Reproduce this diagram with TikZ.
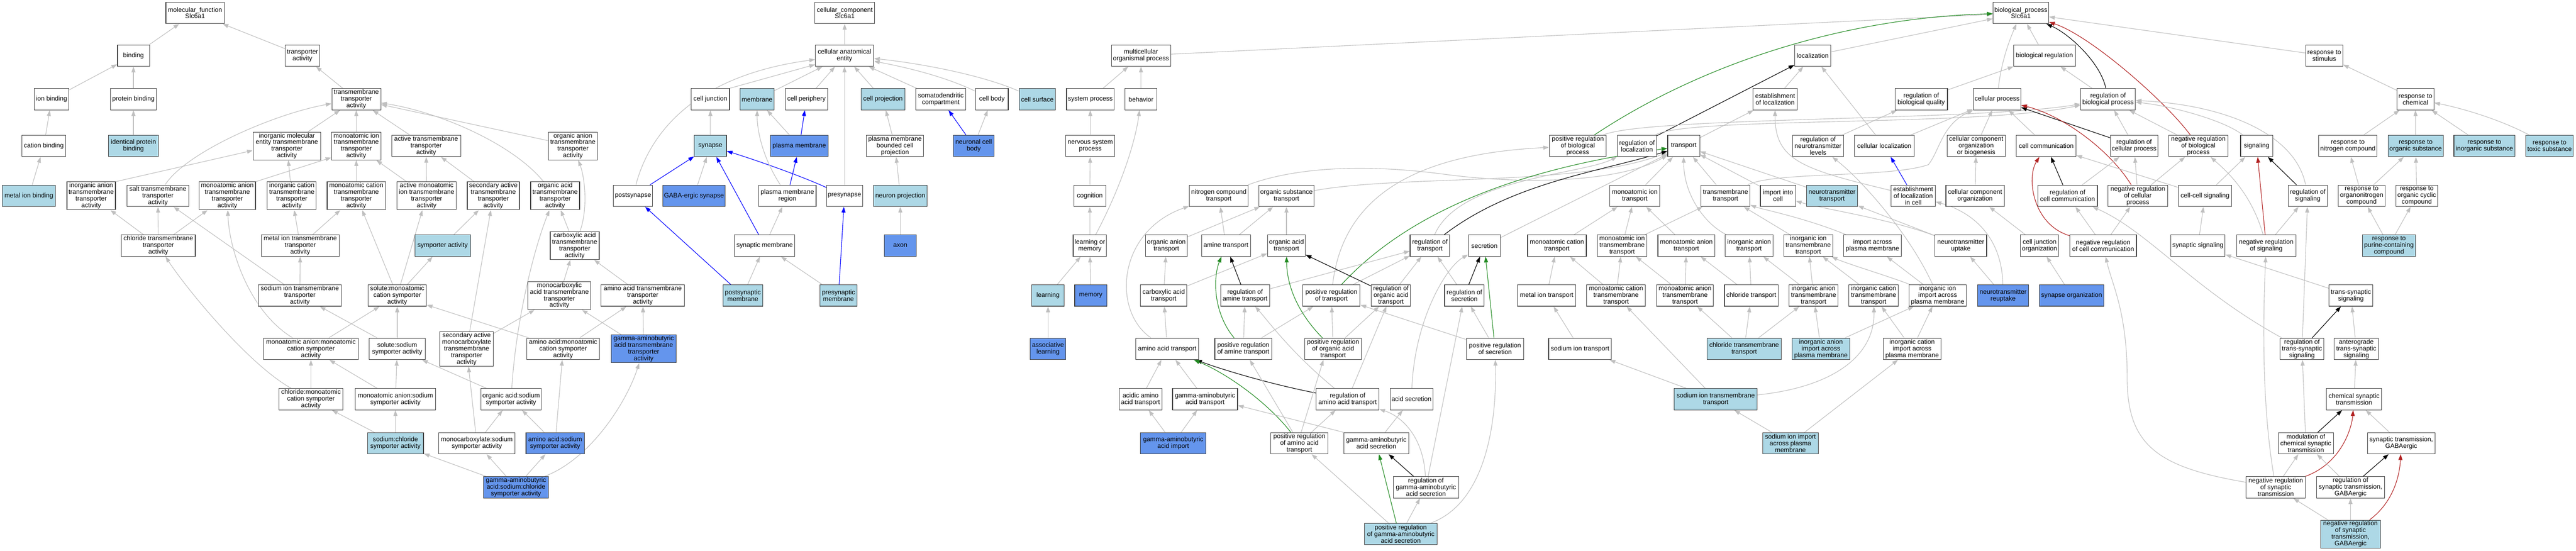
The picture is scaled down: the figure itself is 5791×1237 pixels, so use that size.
\documentclass[tikz,border=0pt]{standalone}
\usepackage{fontspec}
\setmainfont{Liberation Sans}
\usetikzlibrary{arrows.meta}
\definecolor{egray}{HTML}{C0C0C0}
\definecolor{lbcol}{HTML}{ADD8E6}
\definecolor{cbcol}{HTML}{6495ED}
\definecolor{fgreen}{HTML}{228B22}
\definecolor{fred}{HTML}{B22222}
\definecolor{bord}{HTML}{404040}
\newcommand\gofont{\fontsize{14.5}{15}\selectfont}
\pgfdeclarelayer{bg}
\pgfsetlayers{bg,main}
\newcommand\GN[6]{\node[gbox,#5,minimum width=#4pt] (#1) at (#2,#3) {#6};}
\tikzset{
 gbox/.style={draw=bord,line width=1.3pt,rectangle,fill=white,inner xsep=3pt,inner ysep=2pt,minimum height=48pt,align=center,font=\gofont},
 wbx/.style={},
 lbx/.style={fill=lbcol},
 cbx/.style={fill=cbcol},
 egr/.style={draw=egray,line width=1.3pt,-{Triangle[length=13pt,width=9pt]}},
 eblu/.style={egr,draw=blue},
 eblk/.style={egr,draw=black},
 egrn/.style={egr,draw=fgreen},
 ered/.style={egr,draw=fred}
}
\begin{document}
\begin{tikzpicture}[x=1pt,y=-1pt]
\useasboundingbox (0,0) rectangle (5791,1237);
% ---------- MF ----------
\GN{mf}{438.5}{29}{131}{wbx}{molecular\_function\\Slc6a1}
\GN{binding}{300}{125}{72}{wbx}{binding}
\GN{transpact}{680}{125}{78}{wbx}{transporter\\activity}
\GN{ionbind}{116}{223}{78}{wbx}{ion binding}
\GN{protbind}{300}{223}{104}{wbx}{protein binding}
\GN{tta}{801}{223}{110}{wbx}{transmembrane\\transporter\\activity}
\GN{cationbind}{98.5}{328}{99}{wbx}{cation binding}
\GN{identprot}{300}{328}{112}{lbx}{identical protein\\binding}
\GN{inorgmol}{645}{328}{152}{wbx}{inorganic molecular\\entity transmembrane\\transporter\\activity}
\GN{monoiontta}{801}{328}{111}{wbx}{monoatomic ion\\transmembrane\\transporter\\activity}
\GN{activetta}{958}{328}{155}{wbx}{active transmembrane\\transporter\\activity}
\GN{orgaaniontta}{1288}{328}{110}{wbx}{organic anion\\transmembrane\\transporter\\activity}
\GN{metalbind}{65}{440}{120}{lbx}{metal ion binding}
\GN{inorganiontta}{205}{440}{109}{wbx}{inorganic anion\\transmembrane\\transporter\\activity}
\GN{salttta}{355}{440}{138}{wbx}{salt transmembrane\\transporter\\activity}
\GN{monoaniontta}{511}{440}{127}{wbx}{monoatomic anion\\transmembrane\\transporter\\activity}
\GN{inorgcationtta}{656}{440}{110}{wbx}{inorganic cation\\transmembrane\\transporter\\activity}
\GN{monocationtta}{801}{440}{131}{wbx}{monoatomic cation\\transmembrane\\transporter\\activity}
\GN{activemonoion}{959}{440}{134}{wbx}{active monoatomic\\ion transmembrane\\transporter\\activity}
\GN{secactive}{1109}{440}{117}{wbx}{secondary active\\transmembrane\\transporter\\activity}
\GN{orgacidtta}{1248}{440}{110}{wbx}{organic acid\\transmembrane\\transporter\\activity}
\GN{chloridetta}{356}{552}{166}{wbx}{chloride transmembrane\\transporter\\activity}
\GN{metaliontta}{675}{552}{175}{wbx}{metal ion transmembrane\\transporter\\activity}
\GN{symporter}{995}{552}{125}{lbx}{symporter activity}
\GN{carboxtta}{1292}{552}{110}{wbx}{carboxylic acid\\transmembrane\\transporter\\activity}
\GN{sodiumtta}{674}{664}{186}{wbx}{sodium ion transmembrane\\transporter\\activity}
\GN{solutemono}{893}{664}{131}{wbx}{solute:monoatomic\\cation symporter\\activity}
\GN{monocarbtta}{1257.5}{664}{141}{wbx}{monocarboxylic\\acid transmembrane\\transporter\\activity}
\GN{aminotta}{1445}{664}{187}{wbx}{amino acid transmembrane\\transporter\\activity}
\GN{anionmonosym}{699}{784}{214}{wbx}{monoatomic anion:monoatomic\\cation symporter\\activity}
\GN{solutesod}{893}{784}{126}{wbx}{solute:sodium\\symporter activity}
\GN{secmonocarb}{1049}{784}{120}{wbx}{secondary active\\monocarboxylate\\transmembrane\\transporter\\activity}
\GN{aminomonosym}{1266}{784}{163}{wbx}{amino acid:monoatomic\\cation symporter\\activity}
\GN{gabatta}{1447}{784}{146}{cbx}{gamma-aminobutyric\\acid transmembrane\\transporter\\activity}
\GN{chlormonosym}{699}{897}{144}{wbx}{chloride:monoatomic\\cation symporter\\activity}
\GN{anionsodsym}{889}{897}{180}{wbx}{monoatomic anion:sodium\\symporter activity}
\GN{orgacidsod}{1149}{897}{136}{wbx}{organic acid:sodium\\symporter activity}
\GN{sodchlor}{889}{996}{126}{lbx}{sodium:chloride\\symporter activity}
\GN{monocarbsod}{1072}{996}{171}{wbx}{monocarboxylate:sodium\\symporter activity}
\GN{aminosod}{1248}{996}{131}{cbx}{amino acid:sodium\\symporter activity}
\GN{gabasodchl}{1160}{1095}{146}{cbx}{gamma-aminobutyric\\acid:sodium:chloride\\symporter activity}
% ---------- CC ----------
\GN{cc}{1899}{29}{134}{wbx}{cellular\_component\\Slc6a1}
\GN{cae}{1898.5}{125}{131}{wbx}{cellular anatomical\\entity}
\GN{celljunc}{1597}{223}{86}{wbx}{cell junction}
\GN{membrane}{1702}{223}{77}{lbx}{membrane}
\GN{cellperiph}{1813}{223}{95}{wbx}{cell periphery}
\GN{cellproj}{1985}{223}{98}{lbx}{cell projection}
\GN{somato}{2115}{223}{112}{wbx}{somatodendritic\\compartment}
\GN{cellbody}{2230}{223}{73}{wbx}{cell body}
\GN{cellsurf}{2332}{223}{81}{lbx}{cell surface}
\GN{synapse}{1597}{328}{72}{lbx}{synapse}
\GN{pm}{1797}{328}{129}{cbx}{plasma membrane}
\GN{pmbcp}{2012}{328}{129}{wbx}{plasma membrane\\bounded cell\\projection}
\GN{neuronbody}{2189}{328}{91}{cbx}{neuronal cell\\body}
\GN{postsyn}{1423}{440}{88}{wbx}{postsynapse}
\GN{gabasyn}{1560}{440}{139}{cbx}{GABA-ergic synapse}
\GN{pmregion}{1770}{440}{129}{wbx}{plasma membrane\\region}
\GN{presyn}{1898.5}{440}{81}{wbx}{presynapse}
\GN{neuronproj}{2024}{440}{120}{lbx}{neuron projection}
\GN{synmem}{1719}{552}{136}{wbx}{synaptic membrane}
\GN{axon}{2024}{552}{72}{cbx}{axon}
\GN{postsynmem}{1670}{664}{89}{lbx}{postsynaptic\\membrane}
\GN{presynmem}{1885}{664}{83}{lbx}{presynaptic\\membrane}
% ---------- BP ----------
\GN{bp}{4543}{29}{125}{wbx}{biological\_process\\Slc6a1}
\GN{multicell}{2565}{125}{133}{wbx}{multicellular\\organismal process}
\GN{localization}{4075}{125}{81}{wbx}{localization}
\GN{bioreg}{4596}{125}{139}{wbx}{biological regulation}
\GN{respstim}{5225}{125}{83}{wbx}{response to\\stimulus}
\GN{sysproc}{2451}{223}{107}{wbx}{system process}
\GN{behavior}{2565}{223}{72}{wbx}{behavior}
\GN{estloc}{3990.5}{223}{99}{wbx}{establishment\\of localization}
\GN{regbioqual}{4319}{223}{118}{wbx}{regulation of\\biological quality}
\GN{cellproc}{4489.5}{223}{107}{wbx}{cellular process}
\GN{regbp}{4739}{223}{123}{wbx}{regulation of\\biological process}
\GN{respchem}{5430}{223}{83}{wbx}{response to\\chemical}
\GN{nervsys}{2451}{328}{110}{wbx}{nervous system\\process}
\GN{posregbp}{3547}{328}{128}{wbx}{positive regulation\\of biological\\process}
\GN{regloc}{3680}{328}{88}{wbx}{regulation of\\localization}
\GN{transport}{3785}{328}{72}{wbx}{transport}
\GN{regnt}{4087}{328}{115}{wbx}{regulation of\\neurotransmitter\\levels}
\GN{cellloc}{4236}{328}{134}{wbx}{cellular localization}
\GN{ccob}{4442.5}{328}{131}{wbx}{cellular component\\organization\\or biogenesis}
\GN{cellcomm}{4600}{328}{134}{wbx}{cell communication}
\GN{regcellproc}{4797.5}{328}{107}{wbx}{regulation of\\cellular process}
\GN{negregbp}{4942}{328}{134}{wbx}{negative regulation\\of biological\\process}
\GN{signaling}{5073}{328}{72}{wbx}{signaling}
\GN{respnitro}{5278}{328}{131}{wbx}{response to\\nitrogen compound}
\GN{resporg}{5430.5}{328}{124}{lbx}{response to\\organic substance}
\GN{respinorg}{5585}{328}{137}{lbx}{response to\\inorganic substance}
\GN{resptoxic}{5731.5}{328}{107}{lbx}{response to\\toxic substance}
\GN{cognition}{2450}{440}{72}{wbx}{cognition}
\GN{nitrotrans}{2740}{440}{132}{wbx}{nitrogen compound\\transport}
\GN{orgsubtrans}{2892}{440}{123}{wbx}{organic substance\\transport}
\GN{monoiontrans}{3675}{440}{112}{wbx}{monoatomic ion\\transport}
\GN{tmtrans}{3879}{440}{110}{wbx}{transmembrane\\transport}
\GN{importcell}{3997}{440}{79}{wbx}{import into\\cell}
\GN{nttrans}{4118.5}{440}{115}{lbx}{neurotransmitter\\transport}
\GN{elc}{4301}{440}{99}{wbx}{establishment\\of localization\\in cell}
\GN{cco}{4440}{440}{131}{wbx}{cellular component\\organization}
\GN{regcellcomm}{4648}{440}{134}{wbx}{regulation of\\cell communication}
\GN{negregcellproc}{4806}{440}{134}{wbx}{negative regulation\\of cellular\\process}
\GN{cellcell}{4957}{440}{120}{wbx}{cell-cell signaling}
\GN{regsig}{5188}{440}{88}{wbx}{regulation of\\signaling}
\GN{resporgnitro}{5309}{440}{105}{wbx}{response to\\organonitrogen\\compound}
\GN{resporgcyc}{5433}{440}{94}{wbx}{response to\\organic cyclic\\compound}
\GN{learnmem}{2450}{552}{75}{wbx}{learning or\\memory}
\GN{orgaaniontrans}{2622}{552}{94}{wbx}{organic anion\\transport}
\GN{aminetrans}{2756}{552}{110}{wbx}{amine transport}
\GN{orgacidtrans}{2892}{552}{85}{wbx}{organic acid\\transport}
\GN{regtrans}{3214.5}{552}{89}{wbx}{regulation of\\transport}
\GN{secretion}{3337}{552}{72}{wbx}{secretion}
\GN{monocattrans}{3500}{552}{132}{wbx}{monoatomic cation\\transport}
\GN{monoiontm}{3646.5}{552}{112}{wbx}{monoatomic ion\\transmembrane\\transport}
\GN{monoaniontrans}{3791}{552}{128}{wbx}{monoatomic anion\\transport}
\GN{inorganiontrans}{3932}{552}{108}{wbx}{inorganic anion\\transport}
\GN{inorgiontm}{4065}{552}{110}{wbx}{inorganic ion\\transmembrane\\transport}
\GN{importpm}{4209.5}{552}{129}{wbx}{import across\\plasma membrane}
\GN{ntuptake}{4408}{552}{116}{wbx}{neurotransmitter\\uptake}
\GN{cjorg}{4585}{552}{86}{wbx}{cell junction\\organization}
\GN{negregcellcomm}{4728}{552}{150}{wbx}{negative regulation\\of cell communication}
\GN{synsig}{4941}{552}{122}{wbx}{synaptic signaling}
\GN{negregsig}{5094.5}{552}{133}{wbx}{negative regulation\\of signaling}
\GN{resppurine}{5370.5}{552}{120}{lbx}{response to\\purine-containing\\compound}
\GN{learning}{2356}{664}{73}{lbx}{learning}
\GN{memory}{2452}{664}{72}{cbx}{memory}
\GN{carbtrans}{2616}{664}{104}{wbx}{carboxylic acid\\transport}
\GN{regamine}{2799}{664}{110}{wbx}{regulation of\\amine transport}
\GN{posregtrans}{2993}{664}{129}{wbx}{positive regulation\\of transport}
\GN{regorgacid}{3127}{664}{88}{wbx}{regulation of\\organic acid\\transport}
\GN{regsecr}{3292}{664}{89}{wbx}{regulation of\\secretion}
\GN{metaltrans}{3477}{664}{131}{wbx}{metal ion transport}
\GN{monocattm}{3633}{664}{132}{wbx}{monoatomic cation\\transmembrane\\transport}
\GN{monoaniontm}{3788}{664}{128}{wbx}{monoatomic anion\\transmembrane\\transport}
\GN{chlortrans}{3937}{664}{121}{wbx}{chloride transport}
\GN{inorganiontm}{4077}{664}{110}{wbx}{inorganic anion\\transmembrane\\transport}
\GN{inorgcattm}{4212}{664}{111}{wbx}{inorganic cation\\transmembrane\\transport}
\GN{inorgionimport}{4356}{664}{128}{wbx}{inorganic ion\\import across\\plasma membrane}
\GN{ntreuptake}{4503}{664}{115}{cbx}{neurotransmitter\\reuptake}
\GN{synorg}{4657}{664}{145}{cbx}{synapse organization}
\GN{transsyn}{5285}{664}{98}{wbx}{trans-synaptic\\signaling}
\GN{assoclearn}{2356}{784}{80}{cbx}{associative\\learning}
\GN{aminoacidtrans}{2624}{784}{141}{wbx}{amino acid transport}
\GN{posregamine}{2795}{784}{128}{wbx}{positive regulation\\of amine transport}
\GN{posregorgacid}{2997}{784}{128}{wbx}{positive regulation\\of organic acid\\transport}
\GN{posregsecr}{3361}{784}{128}{wbx}{positive regulation\\of secretion}
\GN{sodtrans}{3552}{784}{141}{wbx}{sodium ion transport}
\GN{chlortm}{3921}{784}{166}{lbx}{chloride transmembrane\\transport}
\GN{inorganionimp}{4093.5}{784}{129}{lbx}{inorganic anion\\import across\\plasma membrane}
\GN{inorgcatimp}{4298.5}{784}{129}{wbx}{inorganic cation\\import across\\plasma membrane}
\GN{regtranssyn}{5175}{784}{98}{wbx}{regulation of\\trans-synaptic\\signaling}
\GN{antero}{5297}{784}{99}{wbx}{anterograde\\trans-synaptic\\signaling}
\GN{acidicamino}{2564}{897}{96}{wbx}{acidic amino\\acid transport}
\GN{gabatrans}{2709}{897}{146}{wbx}{gamma-aminobutyric\\acid transport}
\GN{regaminoacid}{3029.5}{897}{141}{wbx}{regulation of\\amino acid transport}
\GN{acidsecr}{3173}{897}{96}{wbx}{acid secretion}
\GN{sodtm}{3857}{897}{186}{lbx}{sodium ion transmembrane\\transport}
\GN{chemsyn}{5292}{897}{124}{wbx}{chemical synaptic\\transmission}
\GN{gabaimport}{2637.5}{996}{147}{cbx}{gamma-aminobutyric\\acid import}
\GN{posregaminoacid}{2921}{996}{128}{wbx}{positive regulation\\of amino acid\\transport}
\GN{gabasecr}{3094}{996}{146}{wbx}{gamma-aminobutyric\\acid secretion}
\GN{sodimport}{4025}{996}{125}{lbx}{sodium ion import\\across plasma\\membrane}
\GN{modchem}{5183.6}{996}{124}{wbx}{modulation of\\chemical synaptic\\transmission}
\GN{syntransgaba}{5398}{996}{152}{wbx}{synaptic transmission,\\GABAergic}
\GN{regGABAsecr}{3205.5}{1095}{147}{wbx}{regulation of\\gamma-aminobutyric\\acid secretion}
\GN{negregsyn}{5116}{1095}{133}{wbx}{negative regulation\\of synaptic\\transmission}
\GN{regsyngaba}{5284}{1095}{153}{wbx}{regulation of\\synaptic transmission,\\GABAergic}
\GN{posreggabasecr}{3149}{1200}{163}{lbx}{positive regulation\\of gamma-aminobutyric\\acid secretion}
\GN{negregsyngaba}{5284}{1200}{134}{lbx}{negative regulation\\of synaptic\\transmission,\\GABAergic}

\begin{pgfonlayer}{bg}
\fill[white] (0,0) rectangle (5791,1237);
% ---- MF edges ----
\draw[egr] (binding) -- (mf);
\draw[egr] (transpact) -- (mf);
\draw[egr] (ionbind) -- (binding);
\draw[egr] (protbind) -- (binding);
\draw[egr] (cationbind) -- (ionbind);
\draw[egr] (identprot) -- (protbind);
\draw[egr] (metalbind) -- (cationbind);
\draw[egr] (tta) -- (transpact);
\draw[egr] (inorgmol) -- (tta);
\draw[egr] (monoiontta) -- (tta);
\draw[egr] (activetta) -- (tta);
\draw[egr] (orgaaniontta) -- (tta);
\draw[egr] (orgacidtta) .. controls (1150,320) and (980,250) .. (tta);
\draw[egr] (salttta) .. controls (420,340) and (620,255) .. (tta);
\draw[egr] (inorganiontta.north east) -- ([yshift=-10pt]inorgmol.west);
\draw[egr] (monoaniontta.north east) -- ([yshift=-26pt]monoiontta.west);
\draw[egr] (inorgcationtta) -- (inorgmol);
\draw[egr] (monocationtta) -- (monoiontta);
\draw[egr] (activemonoion) -- (monoiontta);
\draw[egr] (activemonoion) -- (activetta);
\draw[egr] (secactive) -- (activetta);
\draw[egr] (chloridetta) -- (inorganiontta);
\draw[egr] (chloridetta) -- (salttta);
\draw[egr] (chloridetta) -- (monoaniontta);
\draw[egr] (metaliontta) -- (inorgcationtta);
\draw[egr] (metaliontta) -- (monocationtta);
\draw[egr] (symporter) -- (secactive);
\draw[egr] (carboxtta) .. controls (1322,470) and (1315,400) .. (orgaaniontta);
\draw[egr] (carboxtta) -- (orgacidtta);
\draw[egr] (sodiumtta) -- (salttta);
\draw[egr] (sodiumtta) -- (metaliontta);
\draw[egr] (solutemono) -- (monocationtta);
\draw[egr] (solutemono) -- (activemonoion);
\draw[egr] (solutemono) -- (symporter);
\draw[egr] (anionmonosym) -- (solutemono);
\draw[egr] (anionmonosym) .. controls (560,700) and (515,560) .. (monoaniontta);
\draw[egr] (solutesod) -- (sodiumtta);
\draw[egr] (solutesod) -- (solutemono);
\draw[egr] (chlormonosym) -- (anionmonosym);
\draw[egr] (chlormonosym) .. controls (560,820) and (420,650) .. (chloridetta);
\draw[egr] (anionsodsym) -- (anionmonosym);
\draw[egr] (anionsodsym) -- (solutesod);
\draw[egr] (sodchlor) -- (chlormonosym);
\draw[egr] (sodchlor) -- (anionsodsym);
\draw[egr] (orgacidsod) -- (solutesod);
\draw[egr] (orgacidsod) .. controls (1160,720) and (1200,560) .. (orgacidtta);
\draw[egr] (aminomonosym) -- (solutemono);
\draw[egr] (aminomonosym) -- (aminotta);
\draw[egr] (secmonocarb) -- (secactive);
\draw[egr] (secmonocarb) -- (monocarbtta);
\draw[egr] (monocarbtta) -- (carboxtta);
\draw[egr] (aminotta) -- (carboxtta);
\draw[egr] (gabatta) -- (monocarbtta);
\draw[egr] (gabatta) -- (aminotta);
\draw[egr] (monocarbsod) -- (secmonocarb);
\draw[egr] (monocarbsod) -- (orgacidsod);
\draw[egr] (aminosod) -- (orgacidsod);
\draw[egr] (aminosod) -- (aminomonosym);
\draw[egr] (gabasodchl) -- (sodchlor);
\draw[egr] (gabasodchl) -- (monocarbsod);
\draw[egr] (gabasodchl) -- (aminosod);
\draw[egr] (gabasodchl) .. controls (1330,1030) and (1410,900) .. (gabatta);
% ---- CC edges ----
\draw[egr] (cae) -- (cc);
\draw[egr] (celljunc.north east) -- ([yshift=-20pt]cae.west);
\draw[egr] (membrane) -- (cae);
\draw[egr] (cellperiph) -- (cae);
\draw[egr] (postsyn) .. controls (1460,300) and (1560,170) .. (cae);
\draw[egr] (presyn) -- (cae);
\draw[egr] (cellproj) -- (cae);
\draw[egr] (somato) -- (cae);
\draw[egr] (cellbody) .. controls (2120,170) and (2030,150) .. (cae);
\draw[egr] (cellsurf) .. controls (2200,165) and (2050,140) .. (cae);
\draw[egr] (synapse) -- (celljunc);
\draw[egr] (pm) -- (membrane);
\draw[eblu] (pm) -- (cellperiph);
\draw[eblu] (postsyn) -- (synapse);
\draw[egr] (gabasyn) -- (synapse);
\draw[eblu] (presyn) .. controls (1800,395) and (1700,360) .. (synapse);
\draw[egr] (pmregion) .. controls (1712,350) and (1702,290) .. (membrane);
\draw[eblu] (pmregion) -- (pm);
\draw[eblu] (synmem) -- (synapse);
\draw[egr] (synmem) -- (pmregion);
\draw[eblu] (postsynmem) -- (postsyn);
\draw[egr] (postsynmem) -- (synmem);
\draw[eblu] (presynmem) -- (presyn);
\draw[egr] (presynmem) -- (synmem);
\draw[egr] (pmbcp) -- (cellproj);
\draw[eblu] (neuronbody) -- (somato);
\draw[egr] (neuronbody) -- (cellbody);
\draw[egr] (neuronproj) -- (pmbcp);
\draw[egr] (axon) -- (neuronproj);
% ---- BP top ----
\draw[egr] (multicell) -- (bp);
\draw[egr] (localization) -- (bp);
\draw[egr] (bioreg) -- (bp);
\draw[egr] (cellproc) .. controls (4500,130) and (4522,80) .. (bp);
\draw[eblk] (regbp) .. controls (4722,140) and (4650,75) .. (bp);
\draw[ered] (negregbp) .. controls (4870,230) and (4700,80) .. (bp);
\draw[egrn] (posregbp) .. controls (3830,140) and (4150,40) .. (bp);
\draw[egr] (respstim) -- (bp);
\draw[egr] (sysproc) -- (multicell);
\draw[egr] (behavior) -- (multicell);
\draw[egr] (nervsys) -- (sysproc);
\draw[egr] (cognition) -- (nervsys);
\draw[egr] (learnmem) -- (cognition);
\draw[egr] (learnmem) .. controls (2520,420) and (2552,320) .. (behavior);
\draw[egr] (learning) -- (learnmem);
\draw[egr] (memory) -- (learnmem);
\draw[egr] (assoclearn) -- (learning);
\draw[egr] (estloc) -- (localization);
\draw[egr] (cellloc) -- (localization);
\draw[egr] (transport) -- (estloc);
\draw[eblk] (regloc) -- (localization);
\draw[egr] (regloc) .. controls (3790,262) and (4450,285) .. (regbp);
\draw[egr] (posregbp) .. controls (3700,262) and (4450,272) .. (regbp);
\draw[egr] (regbioqual) -- (bioreg);
\draw[egr] (regbp) -- (bioreg);
\draw[egr] (cellloc) -- (cellproc);
\draw[egr] (ccob) -- (cellproc);
\draw[egr] (cellcomm) -- (cellproc);
\draw[eblk] (regcellproc) -- (cellproc);
\draw[egr] (regcellproc) -- (regbp);
\draw[ered] (negregcellproc) .. controls (4745,340) and (4640,260) .. (cellproc);
\draw[egr] (negregcellproc) -- (negregbp);
\draw[egr] (negregcellproc) -- (regcellproc);
\draw[eblu] (elc) -- (cellloc);
\draw[egr] (elc) .. controls (4050,380) and (3990,360) .. (estloc);
\draw[egr] (tmtrans) .. controls (3990,385) and (4250,400) .. (4335,370) .. controls (4360,340) and (4365,280) .. (cellproc);
\draw[egr] (importcell) -- (transport);
\draw[egr] (nttrans) -- (transport);
\draw[egr] (tmtrans) -- (transport);
\draw[egr] (regnt) -- (regbioqual);
\draw[egr] (cco) -- (ccob);
\draw[egr] (cjorg) -- (cco);
\draw[eblk] (regcellcomm) -- (cellcomm);
\draw[egr] (regcellcomm) -- (regcellproc);
\draw[ered] (negregcellcomm) .. controls (4570,505) and (4555,400) .. (cellcomm);
\draw[egr] (negregcellcomm) -- (regcellcomm);
\draw[egr] (negregcellcomm) -- (negregcellproc);
\draw[egr] (cellcell) -- (cellcomm);
\draw[egr] (cellcell) -- (signaling);
\draw[egr] (signaling) .. controls (5000,270) and (4880,238) .. (regbp);
\draw[eblk] (regsig) -- (signaling);
\draw[egr] (regsig) .. controls (5160,300) and (5000,235) .. (regbp);
\draw[ered] (negregsig) -- (signaling);
\draw[egr] (negregsig) -- (regsig);
\draw[egr] (negregsig) .. controls (5060,430) and (5000,380) .. (negregbp);
\draw[egr] (synsig) -- (cellcell);
\draw[egr] (respchem) -- (respstim);
\draw[egr] (respnitro) -- (respchem);
\draw[egr] (resporg) -- (respchem);
\draw[egr] (respinorg) -- (respchem);
\draw[egr] (resptoxic) .. controls (5620,268) and (5530,242) .. (respchem);
\draw[egr] (resporgnitro) -- (respnitro);
\draw[egr] (resporgnitro) -- (resporg);
\draw[egr] (resporgcyc) -- (resporg);
\draw[egr] (resppurine) -- (resporgnitro);
\draw[egr] (resppurine) -- (resporgcyc);
\draw[egr] (negregbp) -- (regbp);
% ---- transport ----
\draw[egr] (orgsubtrans) .. controls (3150,392) and (3550,420) .. (transport);
\draw[egr] (nitrotrans) .. controls (2900,380) and (3050,365) .. (3250,392) .. controls (3450,418) and (3650,405) .. (transport);
\draw[egr] (posregtrans) .. controls (3020,430) and (3200,345) .. (posregbp);
\draw[egr] (regtrans) .. controls (3280,400) and (3560,392) .. (regloc);
\draw[eblk] (regtrans) .. controls (3400,410) and (3600,385) .. (transport);
\draw[egrn] (posregtrans) .. controls (3200,440) and (3500,368) .. (transport);
\draw[egr] (secretion) -- (transport);
\draw[egr] (monoiontrans) -- (transport);
\draw[egr] (inorganiontrans) .. controls (3835,505) and (3785,440) .. (transport);
\draw[egr] (monoiontm) -- (tmtrans);
\draw[egr] (monoiontm) -- (monoiontrans);
\draw[egr] (monocattrans) -- (monoiontrans);
\draw[egr] (monoaniontrans) -- (monoiontrans);
\draw[egr] (inorgiontm) -- (tmtrans);
\draw[egr] (importpm) .. controls (4060,490) and (3960,470) .. (tmtrans);
\draw[egr] (ntuptake) -- (nttrans);
\draw[egr] (ntuptake) .. controls (4250,492) and (4100,470) .. (importcell);
\draw[egr] (ntreuptake) -- (ntuptake);
\draw[egr] (ntreuptake) .. controls (4500,520) and (4420,472) .. (elc);
\draw[egr] (inorgionimport) .. controls (4290,520) and (4180,400) .. (regnt);
\draw[egr] (chlortrans) -- (monoaniontrans);
\draw[egr] (chlortrans) -- (inorganiontrans);
\draw[egr] (inorganiontm) -- (inorganiontrans);
\draw[egr] (inorganiontm) -- (inorgiontm);
\draw[egr] (inorgcattm) -- (inorgiontm);
\draw[egr] (inorgionimport) .. controls (4250,622) and (4150,592) .. (inorgiontm);
\draw[egr] (inorgionimport) -- (importpm);
\draw[egr] (synorg) -- (cjorg);
\draw[egr] (metaltrans) -- (monocattrans);
\draw[egr] (monocattm) -- (monocattrans);
\draw[egr] (monocattm) -- (monoiontm);
\draw[egr] (monoaniontm) -- (monoiontm);
\draw[egr] (monoaniontm) -- (monoaniontrans);
\draw[egr] (chlortm) -- (chlortrans);
\draw[egr] (chlortm) -- (inorganiontm);
\draw[egr] (chlortm) -- (monoaniontm);
\draw[egr] (inorganionimp) -- (inorganiontm);
\draw[egr] (inorganionimp) -- (inorgionimport);
\draw[egr] (inorgcatimp) -- (inorgcattm);
\draw[egr] (inorgcatimp) -- (inorgionimport);
\draw[egr] (sodtm) -- (sodtrans);
\draw[egr] (sodtm) -- (monocattm);
\draw[egr] (sodtm) .. controls (4120,870) and (4215,800) .. (inorgcattm);
\draw[egr] (sodtrans) -- (metaltrans);
\draw[egr] (sodimport) -- (sodtm);
\draw[egr] (sodimport) -- (inorgcatimp);
% ---- organic / amine ----
\draw[egr] (aminetrans) -- (nitrotrans);
\draw[egr] (aminetrans) -- (orgsubtrans);
\draw[egr] (orgaaniontrans) -- (orgsubtrans);
\draw[egr] (orgacidtrans) -- (orgsubtrans);
\draw[egr] (carbtrans) -- (orgaaniontrans);
\draw[egr] (carbtrans) -- (orgacidtrans);
\draw[eblk] (regamine) -- (aminetrans);
\draw[egr] (regamine) -- (regtrans);
\draw[egrn] (posregamine) .. controls (2725,700) and (2728,620) .. (aminetrans);
\draw[egr] (posregamine) -- (regamine);
\draw[egr] (posregamine) -- (posregtrans);
\draw[egr] (aminoacidtrans) .. controls (2500,700) and (2510,520) .. (nitrotrans);
\draw[egr] (aminoacidtrans) -- (carbtrans);
\draw[egr] (acidicamino) -- (aminoacidtrans);
\draw[egr] (gabatrans) -- (aminoacidtrans);
\draw[egr] (gabaimport) -- (acidicamino);
\draw[egr] (gabaimport) -- (gabatrans);
\draw[egr] (posregtrans) -- (regtrans);
\draw[eblk] (regorgacid) -- (orgacidtrans);
\draw[egr] (regorgacid) -- (regtrans);
\draw[egrn] (posregorgacid) .. controls (2915,700) and (2893,640) .. (orgacidtrans);
\draw[egr] (posregorgacid) -- (posregtrans);
\draw[egr] (posregorgacid) -- (regorgacid);
\draw[eblk] (regsecr) -- (secretion);
\draw[egr] (regsecr) -- (regtrans);
\draw[egrn] (posregsecr) -- (secretion);
\draw[egr] (posregsecr) -- (regsecr);
\draw[egr] (posregsecr) -- (posregtrans);
\draw[egr] (acidsecr) .. controls (3180,720) and (3250,600) .. (secretion);
\draw[eblk] (regaminoacid) .. controls (2850,862) and (2740,828) .. (aminoacidtrans);
\draw[egr] (regaminoacid) .. controls (2900,790) and (2850,720) .. (regamine);
\draw[egr] (regaminoacid) -- (regorgacid);
\draw[egrn] (posregaminoacid) .. controls (2850,905) and (2760,840) .. (aminoacidtrans);
\draw[egr] (posregaminoacid) -- (posregamine);
\draw[egr] ([xshift=4pt]posregaminoacid.north) -- ([xshift=-22pt]posregorgacid.south);
\draw[egr] (posregaminoacid) -- (regaminoacid);
\draw[egr] (gabasecr) -- (acidsecr);
\draw[egr] (gabasecr.north west) -- ([yshift=-14pt]gabatrans.east);
\draw[eblk] (regGABAsecr) -- (gabasecr);
\draw[egr] (regGABAsecr) -- (regsecr);
\draw[egr] (regGABAsecr) .. controls (3200,980) and (3150,935) .. (regaminoacid);
\draw[egrn] ([xshift=-10pt]posreggabasecr.north) -- ([xshift=6pt]gabasecr.south);
\draw[egr] (posreggabasecr) -- (regGABAsecr);
\draw[egr] (posreggabasecr) .. controls (3340,1130) and (3365,950) .. (posregsecr);
\draw[egr] (posreggabasecr) -- (posregaminoacid);
% ---- synaptic ----
\draw[egr] (transsyn) -- (synsig);
\draw[eblk] (regtranssyn) -- (transsyn);
\draw[egr] (regtranssyn) -- (regsig);
\draw[egr] (regtranssyn) .. controls (4930,650) and (4830,520) .. (regcellcomm);
\draw[egr] (antero) -- (transsyn);
\draw[egr] (chemsyn) -- (antero);
\draw[eblk] (modchem) -- (chemsyn);
\draw[egr] (modchem) -- (regtranssyn);
\draw[egr] (syntransgaba) -- (chemsyn);
\draw[ered] (negregsyn) .. controls (5265,1040) and (5287,960) .. (chemsyn);
\draw[egr] (negregsyn) -- (modchem);
\draw[egr] (negregsyn) .. controls (5083,900) and (5088,700) .. (negregsig);
\draw[egr] (negregsyn) .. controls (4850,1050) and (4782,1000) .. (4782,850) .. controls (4782,700) and (4748,640) .. (negregcellcomm);
\draw[egr] (regsyngaba) -- (modchem);
\draw[eblk] (regsyngaba) -- (syntransgaba);
\draw[egr] (negregsyngaba) -- (negregsyn);
\draw[egr] (negregsyngaba) -- (regsyngaba);
\draw[ered] (negregsyngaba) .. controls (5385,1125) and (5395,1060) .. (syntransgaba);
\end{pgfonlayer}
\end{tikzpicture}
\end{document}
